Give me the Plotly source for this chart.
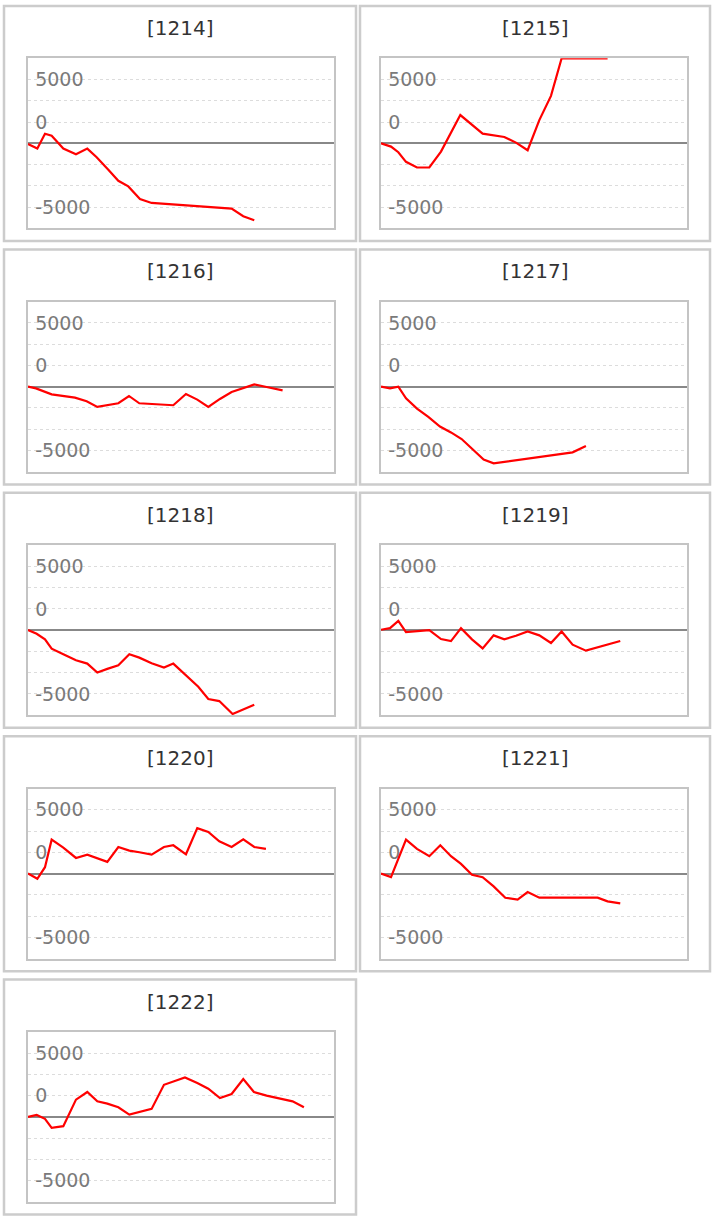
import plotly.graph_objects as go

W, H = 716, 1217

titles = ["[1214]", "[1215]", "[1216]", "[1217]", "[1218]",
          "[1219]", "[1220]", "[1221]", "[1222]"]

x_1214 = [0, 305, 555, 773, 1154, 1568, 1938, 2243, 2625, 2952, 3278, 3659, 4040, 6654, 7035, 7394]
y_1214 = [-80, -620, 1130, 900, -620, -1290, -620, -1640, -3120, -4410, -5070, -6550, -7020, -7680, -8580, -9050]

x_1215 = [0, 327, 566, 817, 1176, 1579, 1960, 2592, 3322, 4030, 4411, 4792, 5174, 5555, 5903, 6425, 6915, 7405]
y_1215 = [0, -390, -1050, -2180, -2850, -2850, -980, 3320, 1130, 740, 80, -820, 2730, 5580, 10000, 10000, 10000, 10000]

x_1216 = [0, 261, 773, 1535, 1917, 2265, 2952, 3300, 3638, 4748, 5162, 5532, 5892, 6273, 6654, 7035, 7394, 7797, 8320]
y_1216 = [0, -200, -900, -1290, -1720, -2380, -1950, -1090, -1950, -2180, -860, -1520, -2380, -1440, -620, -120, 270, -40, -430]

x_1217 = [0, 294, 566, 817, 1176, 1546, 1927, 2287, 2635, 2995, 3354, 3681, 6262, 6697]
y_1217 = [0, -200, 0, -1370, -2570, -3550, -4680, -5380, -6160, -7410, -8580, -9010, -7720, -6980]

x_1218 = [0, 283, 555, 773, 1154, 1568, 1938, 2265, 2592, 2952, 3311, 3638, 4040, 4443, 4748, 5184, 5565, 5892, 6251, 6687, 7089, 7394]
y_1218 = [0, -430, -1090, -2180, -2850, -3550, -3940, -4990, -4560, -4130, -2850, -3240, -3900, -4410, -3940, -5380, -6670, -8110, -8350, -9870, -9200, -8780]

x_1219 = [0, 294, 566, 817, 1579, 1960, 2287, 2614, 2973, 3322, 3681, 4030, 4411, 4792, 5174, 5555, 5903, 6262, 6697, 7819]
y_1219 = [40, 230, 1090, -230, 0, -1050, -1290, 230, -1090, -2150, -620, -1090, -660, -160, -620, -1520, -160, -1720, -2420, -1290]

x_1220 = [0, 305, 555, 773, 1154, 1568, 1938, 2243, 2592, 2952, 3311, 3638, 4040, 4443, 4748, 5162, 5532, 5892, 6251, 6654, 7035, 7394, 7775]
y_1220 = [0, -620, 740, 3980, 3040, 1830, 2220, 1830, 1370, 3120, 2690, 2500, 2220, 3120, 3320, 2260, 5340, 4880, 3780, 3120, 4020, 3120, 2890]

x_1221 = [0, 327, 817, 1176, 1579, 1938, 2287, 2614, 2973, 3322, 3681, 4062, 4465, 4792, 5174, 7079, 7405, 7819]
y_1221 = [0, -430, 3980, 2890, 2030, 3320, 2030, 1130, -160, -430, -1520, -2850, -3080, -2180, -2850, -2850, -3280, -3510]

x_1222 = [0, 283, 555, 773, 1154, 1568, 1938, 2265, 2592, 2952, 3311, 3659, 4040, 4443, 4748, 5129, 5532, 5892, 6273, 6654, 7035, 7383, 7797, 8233, 8647, 9017]
y_1222 = [0, 230, -230, -1290, -1090, 2030, 2930, 1830, 1560, 1130, 270, 620, 940, 3780, 4170, 4640, 3980, 3320, 2220, 2690, 4450, 2930, 2500, 2150, 1830, 1130]

xs = [x_1214, x_1215, x_1216, x_1217, x_1218, x_1219, x_1220, x_1221, x_1222]
ys = [y_1214, y_1215, y_1216, y_1217, y_1218, y_1219, y_1220, y_1221, y_1222]

grid_vals = [-7500, -5000, -2500, 2500, 5000, 7500]
grid_text = ["-5000", "", "", "0", "", "5000"]
x_range = [0, 10000]
y_range = [-10000, 10000]

fig = go.Figure()
shapes = []
annotations = []
layout = dict(
    width=W, height=H,
    margin=dict(l=0, r=0, t=0, b=0),
    paper_bgcolor="white", plot_bgcolor="white",
    showlegend=False,
)

def px_x(v):
    return v / W

def px_y(v):
    return 1 - v / H

for i, (t, xv, yv) in enumerate(zip(titles, xs, ys)):
    r, c = divmod(i, 2)
    box_top = 6 + 243.4 * r
    box_bot = box_top + 235
    if c == 0:
        bx0, bx1, px0, px1 = 4, 356, 28, 334
    else:
        bx0, bx1, px0, px1 = 360, 710, 381, 687
    p_top = box_top + 52.3
    p_bot = box_top + 222.3
    n = i + 1
    xa = "xaxis" if n == 1 else f"xaxis{n}"
    ya = "yaxis" if n == 1 else f"yaxis{n}"
    xr = "x" if n == 1 else f"x{n}"
    yr = "y" if n == 1 else f"y{n}"
    layout[xa] = dict(
        domain=[px_x(px0), px_x(px1)], range=x_range, anchor=yr,
        showgrid=False, zeroline=False, showticklabels=False, ticks="",
        showline=True, mirror=True, linecolor="#c4c4c4", linewidth=2,
        layer="below traces", fixedrange=True,
    )
    layout[ya] = dict(
        domain=[px_y(p_bot), px_y(p_top)], range=y_range, anchor=xr,
        tickmode="array", tickvals=grid_vals, ticktext=grid_text,
        ticklabelposition="inside", ticks="", ticklabelstandoff=8,
        tickfont=dict(family="DejaVu Sans", size=19, color="#7a7a7a"),
        showgrid=True, gridcolor="#dcdcdc", gridwidth=1, griddash="dot",
        zeroline=True, zerolinecolor="#888888", zerolinewidth=2,
        showline=True, mirror=True, linecolor="#c4c4c4", linewidth=2,
        layer="below traces", fixedrange=True,
    )
    fig.add_trace(go.Scatter(
        x=xv, y=yv, mode="lines", xaxis=xr, yaxis=yr,
        line=dict(color="#ff0000", width=2.2), hoverinfo="skip",
    ))
    shapes.append(dict(
        type="rect", xref="paper", yref="paper",
        x0=px_x(bx0), x1=px_x(bx1), y0=px_y(box_bot), y1=px_y(box_top),
        line=dict(color="#cccccc", width=2.5), fillcolor="rgba(0,0,0,0)",
        layer="below",
    ))
    annotations.append(dict(
        text=t, xref="paper", yref="paper",
        x=px_x((bx0 + bx1) / 2), y=px_y(box_top + 22),
        xanchor="center", yanchor="middle", showarrow=False,
        font=dict(family="DejaVu Sans", size=20, color="#333333"),
    ))

layout["shapes"] = shapes
layout["annotations"] = annotations
fig.update_layout(**layout)
fig.write_html(
    "out.html",
    config={"displayModeBar": False, "staticPlot": True},
    post_script="document.body.style.margin='0';document.body.style.overflow='hidden';",
)
